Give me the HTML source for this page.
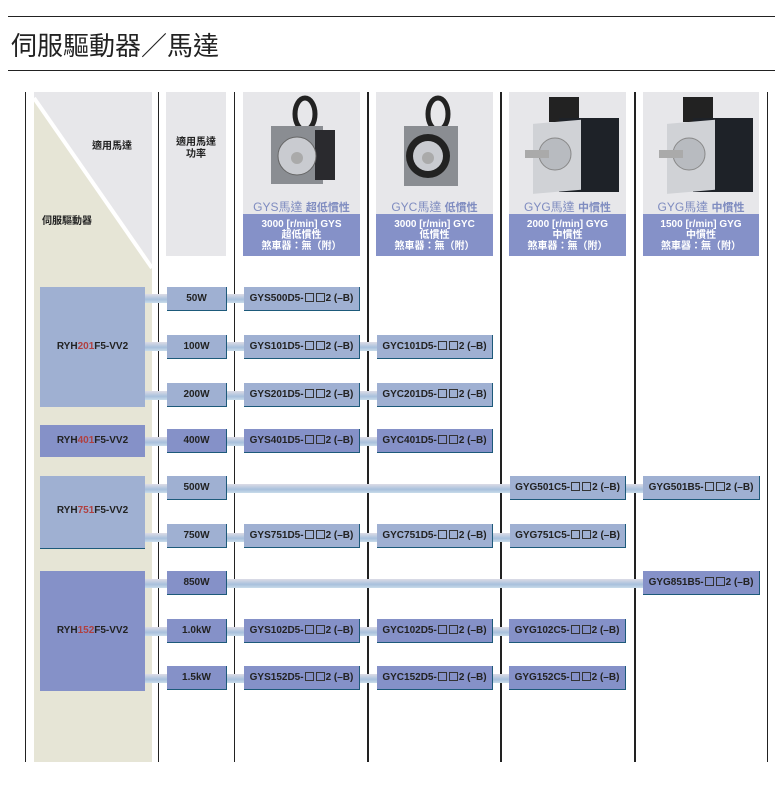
<!DOCTYPE html>
<html><head><meta charset="utf-8"><style>
body{margin:0;width:775px;height:794px;background:#fff;position:relative;font-family:"Liberation Sans","Noto Sans CJK TC",sans-serif;overflow:hidden}
.a{position:absolute}
.vl{position:absolute;top:92px;height:670px;background:#222}
.b{position:absolute;height:24px;line-height:24px;text-align:center;font-size:10px;font-weight:bold;color:#222;border-bottom:1px solid #1d5a7a;border-right:1px solid #1d5a7a;box-sizing:border-box;white-space:nowrap}
.L{background:#9fb0d2}.D{background:#8591c8}
.c{position:absolute;height:9px;background:linear-gradient(#dcdce6,#a8c0dc 60%,#c8dcea)}
.hd{position:absolute;top:92px;height:122px;background:#e7e7ea}
.bd{position:absolute;top:214px;height:42px;background:#8591c8;color:#fff;font-size:10px;font-weight:bold;text-align:center;line-height:11px;padding-top:5px;box-sizing:border-box}
.mt{position:absolute;top:198px;font-size:12px;color:#7f8cc0;text-align:center}
.r{color:#b04040}
.sq{display:inline-block;width:7px;height:7px;border:1px solid #333;margin:0 1px;vertical-align:-1px}
</style></head><body>
<div class="a" style="left:8px;top:16px;width:767px;height:1px;background:#222"></div>
<div class="a" style="left:11px;top:27px;font-size:26px;color:#222;font-family:'Noto Sans CJK TC',sans-serif;line-height:36px">伺服驅動器／馬達</div>
<div class="a" style="left:8px;top:70px;width:767px;height:1px;background:#222"></div>

<svg class="a" style="left:34px;top:92px" width="118" height="670">
<rect width="118" height="670" fill="#e6e5d6"/>
<polygon points="0,0 118,0 118,172 0,6" fill="#e7e7ea"/>
<line x1="0" y1="6" x2="118" y2="176" stroke="#fff" stroke-width="4"/>
</svg>
<div class="a" style="left:92px;top:137px;font-size:10px;font-weight:bold;color:#222">適用馬達</div>
<div class="a" style="left:42px;top:212px;font-size:10px;font-weight:bold;color:#222">伺服驅動器</div>
<div class="a" style="left:166px;top:92px;width:60px;height:164px;background:#e7e7ea"></div>
<div class="a" style="left:166px;top:137px;width:60px;font-size:10px;font-weight:bold;color:#222;text-align:center;line-height:12px">適用馬達<br>功率</div>

<div class="vl" style="left:25px;width:1px"></div>
<div class="vl" style="left:158px;width:1px"></div>
<div class="vl" style="left:234px;width:1px"></div>
<div class="vl" style="left:367px;width:2px"></div>
<div class="vl" style="left:500px;width:2px"></div>
<div class="vl" style="left:634px;width:2px"></div>
<div class="vl" style="left:767px;width:1px"></div>

<div class="hd" style="left:243px;width:117px"></div>
<div class="hd" style="left:376px;width:117px"></div>
<div class="hd" style="left:509px;width:117px"></div>
<div class="hd" style="left:643px;width:116px"></div>
<svg class="a" style="left:243px;top:92px" width="117" height="105"><ellipse cx="62" cy="22" rx="10" ry="16" fill="none" stroke="#222" stroke-width="5"/><rect x="28" y="34" width="52" height="58" fill="#8a8d92"/><rect x="72" y="38" width="20" height="50" fill="#2a2a2e"/><circle cx="54" cy="64" r="19" fill="#c9cbd0" stroke="#666"/><circle cx="54" cy="66" r="6" fill="#aaa"/></svg>
<svg class="a" style="left:376px;top:92px" width="117" height="105"><ellipse cx="62" cy="22" rx="10" ry="16" fill="none" stroke="#222" stroke-width="5"/><rect x="28" y="34" width="54" height="60" fill="#8a8d92"/><circle cx="52" cy="64" r="22" fill="#222"/><circle cx="52" cy="64" r="15" fill="#c9cbd0"/><circle cx="52" cy="66" r="6" fill="#aaa"/></svg>
<svg class="a" style="left:509px;top:92px" width="117" height="105"><rect x="40" y="5" width="30" height="25" fill="#222"/><rect x="50" y="26" width="60" height="74" fill="#1e2228"/><rect x="24" y="34" width="48" height="70" fill="#d0d2d6" transform="skewY(-5)"/><circle cx="46" cy="62" r="16" fill="#b8bbc0" stroke="#888"/><rect x="16" y="58" width="24" height="8" fill="#aaa"/></svg>
<svg class="a" style="left:643px;top:92px" width="116" height="105"><rect x="40" y="5" width="30" height="25" fill="#222"/><rect x="50" y="26" width="60" height="74" fill="#1e2228"/><rect x="24" y="34" width="48" height="70" fill="#d0d2d6" transform="skewY(-5)"/><circle cx="46" cy="62" r="16" fill="#b8bbc0" stroke="#888"/><rect x="16" y="58" width="24" height="8" fill="#aaa"/></svg>
<div class="mt" style="left:243px;width:117px">GYS馬達 <b style="font-size:11px">超低慣性</b></div>
<div class="mt" style="left:376px;width:117px">GYC馬達 <b style="font-size:11px">低慣性</b></div>
<div class="mt" style="left:509px;width:117px">GYG馬達 <b style="font-size:11px">中慣性</b></div>
<div class="mt" style="left:643px;width:116px">GYG馬達 <b style="font-size:11px">中慣性</b></div>
<div class="bd" style="left:243px;width:117px">3000 [r/min] GYS<br>超低慣性<br>煞車器：無（附）</div>
<div class="bd" style="left:376px;width:117px">3000 [r/min] GYC<br>低慣性<br>煞車器：無（附）</div>
<div class="bd" style="left:509px;width:117px">2000 [r/min] GYG<br>中慣性<br>煞車器：無（附）</div>
<div class="bd" style="left:643px;width:116px">1500 [r/min] GYG<br>中慣性<br>煞車器：無（附）</div>

<div class="c" style="left:145px;top:294px;width:100px"></div>
<div class="c" style="left:145px;top:342px;width:240px"></div>
<div class="c" style="left:145px;top:391px;width:240px"></div>
<div class="c" style="left:145px;top:437px;width:240px"></div>
<div class="c" style="left:145px;top:484px;width:500px"></div>
<div class="c" style="left:145px;top:533px;width:370px"></div>
<div class="c" style="left:145px;top:579px;width:500px"></div>
<div class="c" style="left:145px;top:627px;width:370px"></div>
<div class="c" style="left:145px;top:674px;width:370px"></div>

<div class="b L" style="left:40px;top:287px;width:105px;height:120px;line-height:120px;border:none">RYH<span class="r">201</span>F5-VV2</div>
<div class="b D" style="left:40px;top:425px;width:105px;height:32px;line-height:32px;border:none">RYH<span class="r">401</span>F5-VV2</div>
<div class="b L" style="left:40px;top:476px;width:105px;height:73px;line-height:70px;border-right:none">RYH<span class="r">751</span>F5-VV2</div>
<div class="b D" style="left:40px;top:571px;width:105px;height:120px;line-height:120px;border:none">RYH<span class="r">152</span>F5-VV2</div>

<div class="b L" style="left:167px;top:287px;width:60px">50W</div>
<div class="b L" style="left:167px;top:335px;width:60px">100W</div>
<div class="b L" style="left:167px;top:383px;width:60px">200W</div>
<div class="b D" style="left:167px;top:429px;width:60px">400W</div>
<div class="b L" style="left:167px;top:476px;width:60px">500W</div>
<div class="b L" style="left:167px;top:524px;width:60px">750W</div>
<div class="b D" style="left:167px;top:571px;width:60px">850W</div>
<div class="b D" style="left:167px;top:619px;width:60px">1.0kW</div>
<div class="b D" style="left:167px;top:666px;width:60px">1.5kW</div>

<div class="b L" style="left:244px;top:287px;width:116px">GYS500D5-<span class="sq"></span><span class="sq"></span>2 (–B)</div>
<div class="b L" style="left:244px;top:335px;width:116px">GYS101D5-<span class="sq"></span><span class="sq"></span>2 (–B)</div>
<div class="b L" style="left:244px;top:383px;width:116px">GYS201D5-<span class="sq"></span><span class="sq"></span>2 (–B)</div>
<div class="b D" style="left:244px;top:429px;width:116px">GYS401D5-<span class="sq"></span><span class="sq"></span>2 (–B)</div>
<div class="b L" style="left:244px;top:524px;width:116px">GYS751D5-<span class="sq"></span><span class="sq"></span>2 (–B)</div>
<div class="b D" style="left:244px;top:619px;width:116px">GYS102D5-<span class="sq"></span><span class="sq"></span>2 (–B)</div>
<div class="b D" style="left:244px;top:666px;width:116px">GYS152D5-<span class="sq"></span><span class="sq"></span>2 (–B)</div>
<div class="b L" style="left:377px;top:335px;width:116px">GYC101D5-<span class="sq"></span><span class="sq"></span>2 (–B)</div>
<div class="b L" style="left:377px;top:383px;width:116px">GYC201D5-<span class="sq"></span><span class="sq"></span>2 (–B)</div>
<div class="b D" style="left:377px;top:429px;width:116px">GYC401D5-<span class="sq"></span><span class="sq"></span>2 (–B)</div>
<div class="b L" style="left:377px;top:524px;width:116px">GYC751D5-<span class="sq"></span><span class="sq"></span>2 (–B)</div>
<div class="b D" style="left:377px;top:619px;width:116px">GYC102D5-<span class="sq"></span><span class="sq"></span>2 (–B)</div>
<div class="b D" style="left:377px;top:666px;width:116px">GYC152D5-<span class="sq"></span><span class="sq"></span>2 (–B)</div>
<div class="b L" style="left:510px;top:476px;width:116px">GYG501C5-<span class="sq"></span><span class="sq"></span>2 (–B)</div>
<div class="b L" style="left:510px;top:524px;width:116px">GYG751C5-<span class="sq"></span><span class="sq"></span>2 (–B)</div>
<div class="b D" style="left:509px;top:619px;width:117px">GYG102C5-<span class="sq"></span><span class="sq"></span>2 (–B)</div>
<div class="b D" style="left:509px;top:666px;width:117px">GYG152C5-<span class="sq"></span><span class="sq"></span>2 (–B)</div>
<div class="b L" style="left:643px;top:476px;width:117px">GYG501B5-<span class="sq"></span><span class="sq"></span>2 (–B)</div>
<div class="b D" style="left:643px;top:571px;width:117px">GYG851B5-<span class="sq"></span><span class="sq"></span>2 (–B)</div>
</body></html>
